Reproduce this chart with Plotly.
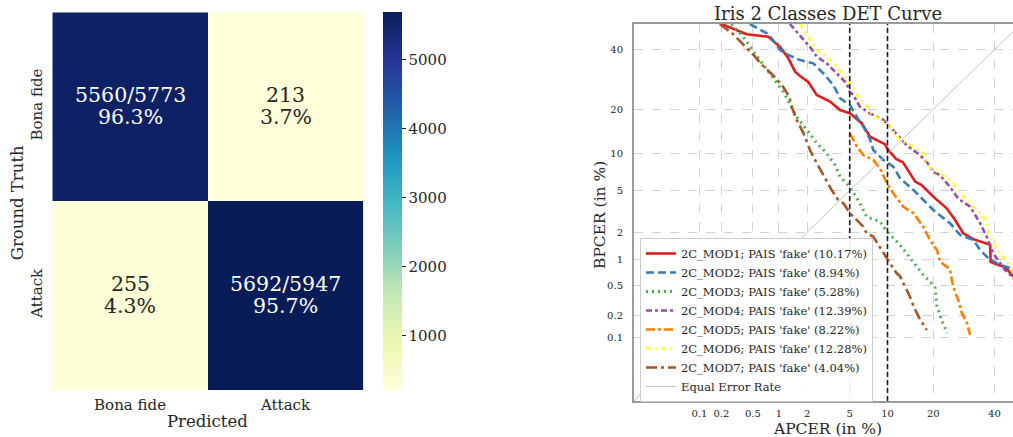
import numpy as np
import plotly.graph_objects as go

# ---------------- data ----------------
class_labels = ["Bona fide", "Attack"]
cm_counts = [[5560, 213], [255, 5692]]
cm_totals = [5773, 5947]
cm_pct = [[96.3, 3.7], [4.3, 95.7]]

cbar_ticks = [1000, 2000, 3000, 4000, 5000]

det_ticks = [0.1, 0.2, 0.5, 1, 2, 5, 10, 20, 40]
det_ticktext = ["0.1", "0.2", "0.5", "1", "2", "5", "10", "20", "40"]

series_names = [
    "2C_MOD1; PAIS 'fake' (10.17%)",
    "2C_MOD2; PAIS 'fake' (8.94%)",
    "2C_MOD3; PAIS 'fake' (5.28%)",
    "2C_MOD4; PAIS 'fake' (12.39%)",
    "2C_MOD5; PAIS 'fake' (8.22%)",
    "2C_MOD6; PAIS 'fake' (12.28%)",
    "2C_MOD7; PAIS 'fake' (4.04%)",
]

mod1_apcer = [0.2, 0.315, 0.42, 0.76, 1.03, 1.27, 1.50, 1.69, 2.05, 2.49, 3.33, 4.11, 5.03, 6.30, 7.36,
              9.57, 10.1, 11.6, 12.9, 15.5, 17.0, 20.0, 23.8, 26.4, 29.0, 32.4, 37.1, 38.4, 38.6, 41.4,
              44.0, 47.0, 50.0]
mod1_bpcer = [50, 47.6, 46.0, 45.0, 41.1, 36.8, 31.9, 30.4, 28.4, 24.2, 22.2, 19.8, 18.9, 16.4, 13.3,
              11.8, 10.7, 9.1, 8.6, 6.0, 5.6, 4.43, 3.45, 2.66, 1.95, 1.69, 1.50, 1.47, 0.95, 0.87,
              0.83, 0.65, 0.5]

mod2_apcer = [0.46, 0.73, 0.83, 1.03, 1.27, 1.69, 2.30, 2.88, 3.57, 4.11, 5.03, 5.73, 6.5, 7.36, 7.8,
              9.3, 11.0, 12.3, 15.1, 17.4, 20.0, 24.8, 28.0, 32.4, 34.8, 37.8, 40.9, 45.9, 50.0]
mod2_bpcer = [50, 46.3, 44.4, 39.9, 38.0, 36.1, 34.9, 31.3, 27.4, 23.2, 21.2, 18.0, 15.6, 12.8, 10.7,
              9.0, 7.97, 6.4, 5.08, 4.13, 3.33, 2.47, 1.87, 1.66, 1.29, 1.04, 0.91, 0.80, 0.6]

mod3_apcer = [0.27, 0.38, 0.51, 0.66, 0.87, 1.12, 1.32, 1.56, 1.98, 2.49, 3.1, 3.7, 4.11, 5.03, 6.1,
              6.9, 8.8, 9.9, 12.3, 15.1, 17.4, 20.0, 20.5, 21.0, 22.4, 24.0]
mod3_bpcer = [50, 45.0, 39.2, 34.3, 29.6, 25.2, 21.7, 18.0, 14.8, 12.0, 10.1, 8.2, 6.6, 5.4, 3.85,
              2.87, 2.56, 2.03, 1.46, 0.95, 0.67, 0.50, 0.46, 0.27, 0.17, 0.115]

mod4_apcer = [1.32, 1.69, 2.13, 2.49, 3.1, 3.84, 4.7, 5.03, 5.37, 6.1, 7.36, 9.3, 10.4, 12.3, 13.6,
              16.6, 18.3, 20.0, 21.9, 24.8, 26.9, 28.0, 31.3, 34.8, 37.1, 39.6, 42.1, 44.0, 46.5, 50.0]
mod4_bpcer = [50, 45.4, 41.1, 37.4, 34.9, 31.3, 27.9, 25.0, 24.2, 20.7, 18.9, 17.2, 15.6, 13.0, 11.6,
              9.8, 8.7, 7.25, 6.8, 5.4, 4.43, 4.13, 3.58, 2.47, 1.80, 1.18, 0.91, 0.76, 0.64, 0.5]

mod5_apcer = [5.03, 5.73, 6.5, 7.8, 8.8, 9.9, 11.0, 12.9, 15.1, 17.4, 19.1, 21.0, 21.9, 23.8, 24.8,
              25.3, 25.8, 27.4, 28.5, 30.2, 31.3]
mod5_bpcer = [14.0, 11.4, 9.8, 9.0, 7.7, 5.8, 4.75, 3.58, 3.1, 2.28, 1.66, 1.29, 0.95, 0.83, 0.78,
              0.60, 0.48, 0.32, 0.22, 0.16, 0.108]

mod6_apcer = [1.69, 2.13, 2.49, 3.1, 3.84, 4.7, 5.37, 5.73, 6.9, 7.36, 8.8, 10.4, 12.3, 15.1, 17.4,
              19.1, 21.9, 24.8, 29.0, 32.4, 35.9, 37.1, 37.8, 39.6, 42.1, 45.2, 47.0, 50.0]
mod6_bpcer = [50, 43.7, 39.9, 37.4, 33.7, 29.0, 26.3, 24.2, 21.2, 19.3, 17.2, 15.6, 12.6, 11.3, 10.1,
              7.9, 7.05, 6.2, 4.43, 3.58, 2.87, 2.6, 1.95, 1.5, 1.2, 0.91, 0.70, 0.55]

mod7_apcer = [0.19, 0.285, 0.38, 0.51, 0.63, 0.87, 1.10, 1.30, 1.38, 1.56, 1.83, 2.13, 2.49, 2.88,
              3.45, 3.96, 4.4, 5.03, 6.5, 6.9, 7.8, 9.9, 11.6, 12.3, 13.3, 14.3, 15.1, 16.6, 18.3]
mod7_bpcer = [50, 46.0, 42.0, 38.0, 34.6, 30.5, 27.0, 23.7, 20.7, 17.2, 14.1, 10.7, 8.5, 6.8,
              5.08, 4.13, 3.85, 3.1, 2.28, 1.95, 1.80, 1.04, 0.70, 0.64, 0.48, 0.36, 0.27, 0.18, 0.127]

eer_line = [0.01, 50.0]
thresholds = [5, 10]
det_limits = [0.01, 50.0]


# ---------------- probit (normal deviate) scale ----------------
def probit(pct):
    p = np.asarray(pct, dtype=float) / 100.0
    a = [-3.969683028665376e+01, 2.209460984245205e+02, -2.759285104469687e+02,
         1.383577518672690e+02, -3.066479806614716e+01, 2.506628277459239e+00]
    b = [-5.447609879822406e+01, 1.615858368580409e+02, -1.556989798598866e+02,
         6.680131188771972e+01, -1.328068155288572e+01]
    c = [-7.784894002430293e-03, -3.223964580411365e-01, -2.400758277161838e+00,
         -2.549732539343734e+00, 4.374664141464968e+00, 2.938163982698783e+00]
    d = [7.784695709041462e-03, 3.224671290700398e-01, 2.445134137142996e+00,
         3.754408661907416e+00]
    plow = 0.02425
    out = np.zeros_like(p)
    lo = p < plow
    hi = p > 1 - plow
    mid = ~(lo | hi)
    q = np.sqrt(-2 * np.log(p[lo]))
    out[lo] = (((((c[0]*q+c[1])*q+c[2])*q+c[3])*q+c[4])*q+c[5]) / ((((d[0]*q+d[1])*q+d[2])*q+d[3])*q+1)
    q = p[mid] - 0.5
    r = q*q
    out[mid] = (((((a[0]*r+a[1])*r+a[2])*r+a[3])*r+a[4])*r+a[5])*q / (((((b[0]*r+b[1])*r+b[2])*r+b[3])*r+b[4])*r+1)
    q = np.sqrt(-2 * np.log(1 - p[hi]))
    out[hi] = -(((((c[0]*q+c[1])*q+c[2])*q+c[3])*q+c[4])*q+c[5]) / ((((d[0]*q+d[1])*q+d[2])*q+d[3])*q+1)
    return out


FONT = "DejaVu Serif"
TXT = "#262626"

ylgnbu = [[0.0, "#ffffd9"], [0.125, "#edf8b1"], [0.25, "#c7e9b4"], [0.375, "#7fcdbb"],
          [0.5, "#41b6c4"], [0.625, "#1d91c0"], [0.75, "#225ea8"], [0.875, "#253494"],
          [1.0, "#081d58"]]

fig = go.Figure()

# ---------------- confusion matrix ----------------
fig.add_trace(go.Heatmap(
    z=cm_counts, x=class_labels, y=class_labels, colorscale=ylgnbu,
    xaxis="x", yaxis="y", hoverinfo="skip", xgap=0, ygap=0,
    colorbar=dict(
        x=382.7/1013, xanchor="left", xpad=0, ypad=0,
        y=1 - 201.2/437, yanchor="middle",
        len=377.7, lenmode="pixels", thickness=19, outlinewidth=0,
        tickvals=cbar_ticks, ticks="outside", ticklen=4, tickwidth=1, tickcolor=TXT,
        tickfont=dict(family=FONT, size=15, color=TXT),
    ),
))

zmin = min(min(r) for r in cm_counts)
zmax = max(max(r) for r in cm_counts)
annotations = []
for i, row in enumerate(cm_counts):
    for j, v in enumerate(row):
        col = "white" if (v - zmin) / (zmax - zmin) > 0.5 else TXT
        top = f"{v}/{cm_totals[i]}" if i == j else f"{v}"
        annotations.append(dict(x=class_labels[j], y=class_labels[i], xref="x", yref="y",
                                text=top, showarrow=False, yshift=11.5,
                                font=dict(family=FONT, size=20.5, color=col)))
        annotations.append(dict(x=class_labels[j], y=class_labels[i], xref="x", yref="y",
                                text=f"{cm_pct[i][j]}%", showarrow=False, yshift=-10.5,
                                font=dict(family=FONT, size=20.5, color=col)))

# ---------------- DET curves ----------------
colors = ["#e41a1c", "#377eb8", "#4daf4a", "#984ea3", "#ff7f00", "#ffff33", "#a65628"]
dashes = ["solid", "8px,4px", "2px,4px", "6px,3px,3px,3px", "9px,3px,3px,3px",
          "5px,4px,2px,4px", "11px,4px,3px,4px"]
curves = [(mod1_apcer, mod1_bpcer), (mod2_apcer, mod2_bpcer), (mod3_apcer, mod3_bpcer),
          (mod4_apcer, mod4_bpcer), (mod5_apcer, mod5_bpcer), (mod6_apcer, mod6_bpcer),
          (mod7_apcer, mod7_bpcer)]

for name, (xa, yb), c, dsh in zip(series_names, curves, colors, dashes):
    fig.add_trace(go.Scatter(
        x=probit(xa), y=probit(yb), mode="lines", name=name,
        line=dict(color=c, width=3 if dsh == "2px,4px" else 2.6, dash=dsh),
        xaxis="x2", yaxis="y2", hoverinfo="skip",
    ))

fig.add_trace(go.Scatter(
    x=probit(eer_line), y=probit(eer_line), mode="lines", name="Equal Error Rate",
    line=dict(color="#c4c4c4", width=1), xaxis="x2", yaxis="y2", hoverinfo="skip",
))

shapes = []
for t in thresholds:
    tp = float(probit([t])[0])
    shapes.append(dict(type="line", xref="x2", yref="y2 domain", x0=tp, x1=tp, y0=0, y1=1,
                       line=dict(color="#1a1a1a", width=1.6, dash="5px,3px")))

det_range = probit(det_limits)
x_right = float(det_range[0]) + (1013 - 634) / 104.0

fig.update_layout(
    width=1013, height=437,
    margin=dict(l=0, r=0, t=0, b=0),
    paper_bgcolor="white", plot_bgcolor="white",
    font=dict(family=FONT, color=TXT),
    showlegend=True,
    legend=dict(x=640/1013, y=1 - 238/437, xanchor="left", yanchor="top",
                bgcolor="rgba(255,255,255,0.92)", bordercolor="#cccccc", borderwidth=1,
                font=dict(family=FONT, size=11.5, color=TXT), tracegroupgap=0,
                itemwidth=30),
    xaxis=dict(domain=[52.3/1013, 363.3/1013], anchor="y", showgrid=False, zeroline=False,
               ticks="", tickfont=dict(family=FONT, size=15, color=TXT), automargin=False,
               ticklabelstandoff=4),
    yaxis=dict(domain=[1 - 390/437, 1 - 12.3/437], anchor="x", showgrid=False, zeroline=False,
               autorange="reversed", ticks="", tickangle=-90,
               tickfont=dict(family=FONT, size=15, color=TXT), automargin=False,
               ticklabelstandoff=6),
    xaxis2=dict(domain=[634/1013, 1.0], anchor="y2",
                range=[float(det_range[0]), x_right],
                tickvals=probit(det_ticks), ticktext=det_ticktext,
                showgrid=True, gridcolor="#d3d3d3", gridwidth=0.8, griddash="dash",
                zeroline=False, showline=True, linecolor="#9a9a9a", linewidth=2, mirror=True,
                ticks="", tickfont=dict(family=FONT, size=10, color=TXT), automargin=False,
                ticklabelstandoff=2),
    yaxis2=dict(domain=[1 - 401/437, 1 - 24/437], anchor="x2",
                range=[float(det_range[0]), float(det_range[1])],
                tickvals=probit(det_ticks), ticktext=det_ticktext,
                showgrid=True, gridcolor="#d3d3d3", gridwidth=0.8, griddash="dash",
                zeroline=False, showline=True, linecolor="#9a9a9a", linewidth=2,
                ticks="", tickfont=dict(family=FONT, size=10, color=TXT), automargin=False,
                ticklabelstandoff=7),
    shapes=shapes,
)

annotations += [
    dict(text="Predicted", x=207/1013, y=1 - 421/437, xref="paper", yref="paper",
         showarrow=False, xanchor="center", yanchor="middle",
         font=dict(family=FONT, size=16.5, color=TXT)),
    dict(text="Ground Truth", x=17.7/1013, y=1 - 202.5/437, xref="paper", yref="paper",
         showarrow=False, textangle=-90, xanchor="center", yanchor="middle",
         font=dict(family=FONT, size=16.5, color=TXT)),
    dict(text="Iris 2 Classes DET Curve", x=828/1013, y=1 - 13/437, xref="paper", yref="paper",
         showarrow=False, xanchor="center", yanchor="middle",
         font=dict(family=FONT, size=18, color=TXT)),
    dict(text="APCER (in %)", x=827.7/1013, y=1 - 428.5/437, xref="paper", yref="paper",
         showarrow=False, xanchor="center", yanchor="middle",
         font=dict(family=FONT, size=15.5, color=TXT)),
    dict(text="BPCER (in %)", x=600/1013, y=1 - 215/437, xref="paper", yref="paper",
         showarrow=False, textangle=-90, xanchor="center", yanchor="middle",
         font=dict(family=FONT, size=15.5, color=TXT)),
]
fig.update_layout(annotations=annotations)

fig.write_html("out.html", config={"displayModeBar": False},
               post_script="document.body.style.margin='0px';document.body.style.overflow='hidden';")
